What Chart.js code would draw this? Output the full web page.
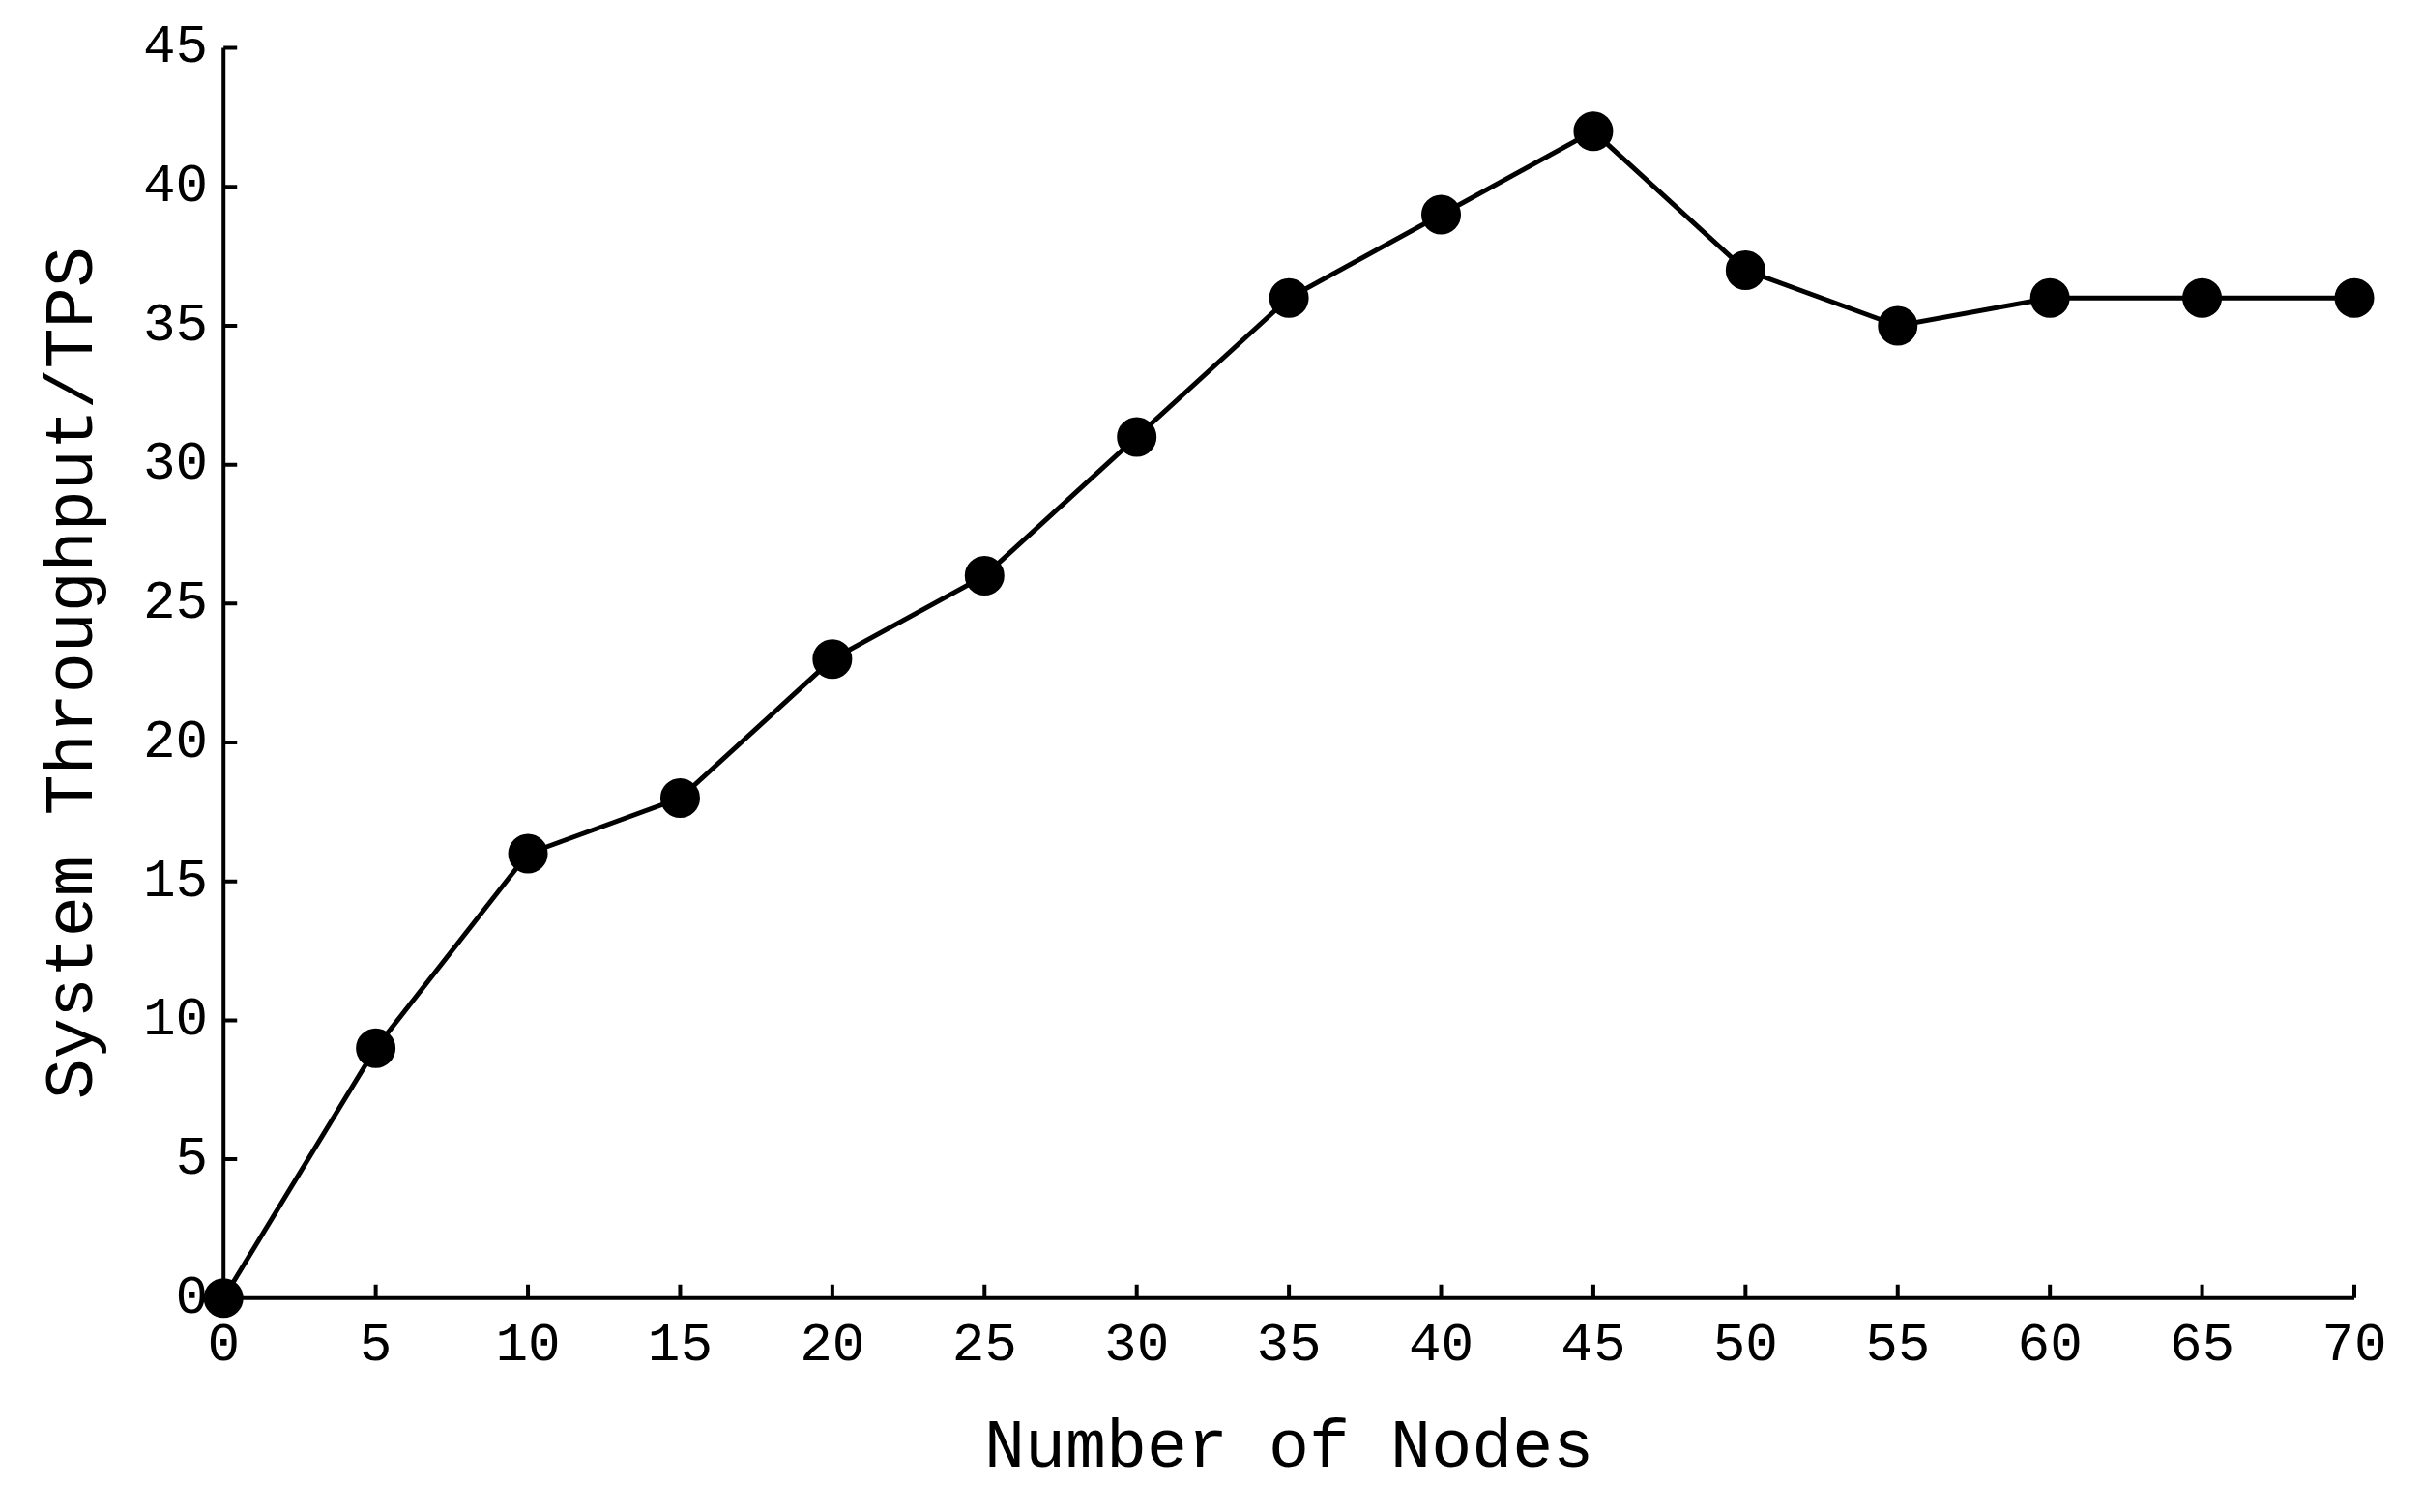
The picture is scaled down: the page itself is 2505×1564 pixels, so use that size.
<!DOCTYPE html>
<html><head><meta charset="utf-8">
<script src="https://cdn.jsdelivr.net/npm/chart.js@4"></script>
<style>html,body{margin:0;padding:0;background:#fff}#w{width:2505px;height:1564px}</style>
</head><body><div id="w"><canvas id="c"></canvas></div>
<script>
const nodes = [0,5,10,15,20,25,30,35,40,45,50,55,60,65,70];
const tps = [0,9,16,18,23,26,31,36,39,42,37,35,36,36,36];
const yTicks = [0,5,10,15,20,25,30,35,40,45];
const FONT = "'Liberation Mono', monospace";
const inTicks = {
  id:'inTicks',
  afterDraw(ch){
    const c=ch.ctx, x=ch.scales.x, y=ch.scales.y, a=ch.chartArea;
    c.save(); c.strokeStyle='#000'; c.lineWidth=4;
    c.beginPath();
    c.moveTo(a.left,a.top); c.lineTo(a.left,a.bottom); c.lineTo(a.right,a.bottom);
    nodes.forEach(v=>{const p=x.getPixelForValue(v); c.moveTo(p,a.bottom); c.lineTo(p,a.bottom-14);});
    yTicks.forEach(v=>{const p=y.getPixelForValue(v); c.moveTo(a.left,p); c.lineTo(a.left+14,p);});
    c.stroke(); c.restore();
  }
};
new Chart(document.getElementById('c'),{
  type:'line',
  data:{datasets:[{data:nodes.map((n,i)=>({x:n,y:tps[i]})),borderColor:'#000',backgroundColor:'#000',
    borderWidth:5,pointRadius:18,pointHoverRadius:18,tension:0,clip:false}]},
  options:{responsive:true,maintainAspectRatio:false,animation:false,
    layout:{padding:{top:40,right:70,left:30,bottom:20}},
    plugins:{legend:{display:false},tooltip:{enabled:false}},
    scales:{
      x:{type:'linear',min:0,max:70,afterBuildTicks:s=>{s.ticks=nodes.map(v=>({value:v}));},
        grid:{display:false,drawTicks:false},border:{display:false},
        ticks:{color:'#000',font:{family:FONT,size:56},padding:16},
        title:{display:true,text:'Number of Nodes',color:'#000',font:{family:FONT,size:70},padding:{top:14}}},
      y:{min:0,max:45,afterBuildTicks:s=>{s.ticks=yTicks.map(v=>({value:v}));},
        grid:{display:false,drawTicks:false},border:{display:false},
        ticks:{color:'#000',font:{family:FONT,size:56},padding:16},
        title:{display:true,text:'System Throughput/TPS',color:'#000',font:{family:FONT,size:70},padding:{bottom:14}}}
    }},
  plugins:[inTicks]
});
</script></body></html>
